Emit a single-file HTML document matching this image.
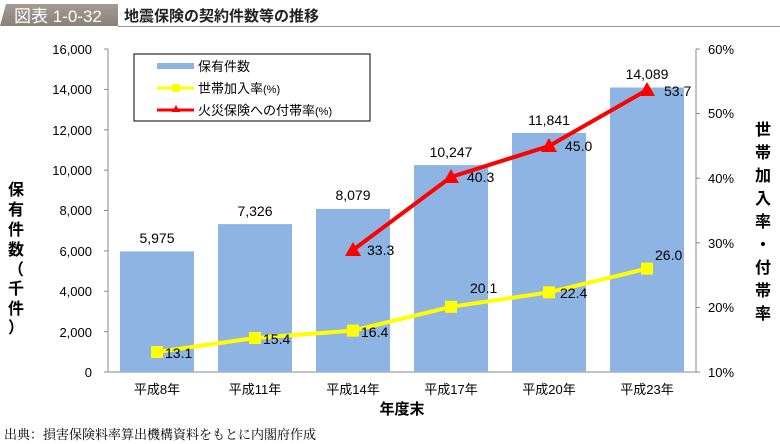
<!DOCTYPE html>
<html><head><meta charset="utf-8"><style>
body{margin:0;background:#fff;}
svg{display:block;font-family:"Liberation Sans","Noto Sans CJK JP",sans-serif;}
</style></head><body>
<svg width="780" height="444" viewBox="0 0 780 444" xmlns="http://www.w3.org/2000/svg">
<defs><linearGradient id="g" x1="0" y1="0" x2="0" y2="1"><stop offset="0" stop-color="#a39b94"/><stop offset="1" stop-color="#8a817a"/></linearGradient></defs>
<polygon points="6,4 118,4 118,26 0,26" fill="url(#g)"/>
<text x="14" y="22" font-size="17" fill="#fff">図表 1-0-32</text>
<text x="124" y="21" font-size="15" fill="#222" font-weight="bold">地震保険の契約件数等の推移</text>
<line x1="118" y1="26.5" x2="780" y2="26.5" stroke="#999" stroke-width="1"/>
<line x1="108" y1="49" x2="108" y2="372" stroke="#888"/>
<line x1="696" y1="49" x2="696" y2="372" stroke="#888"/>
<line x1="108" y1="372" x2="696" y2="372" stroke="#888"/>
<g font-size="13" fill="#000" text-anchor="end">
<text x="92" y="377">0</text><text x="92" y="337">2,000</text><text x="92" y="296">4,000</text><text x="92" y="256">6,000</text><text x="92" y="215">8,000</text><text x="92" y="175">10,000</text><text x="92" y="135">12,000</text><text x="92" y="94">14,000</text><text x="92" y="54">16,000</text>
</g>
<g font-size="13" fill="#000">
<text x="708" y="377">10%</text><text x="708" y="312">20%</text><text x="708" y="248">30%</text><text x="708" y="183">40%</text><text x="708" y="118">50%</text><text x="708" y="54">60%</text>
</g>
<g stroke="#888"><line x1="104" y1="372" x2="108" y2="372"/><line x1="104" y1="331.6" x2="108" y2="331.6"/><line x1="104" y1="291.2" x2="108" y2="291.2"/><line x1="104" y1="250.9" x2="108" y2="250.9"/><line x1="104" y1="210.5" x2="108" y2="210.5"/><line x1="104" y1="170.1" x2="108" y2="170.1"/><line x1="104" y1="129.8" x2="108" y2="129.8"/><line x1="104" y1="89.4" x2="108" y2="89.4"/><line x1="104" y1="49" x2="108" y2="49"/>
<line x1="696" y1="372" x2="700" y2="372"/><line x1="696" y1="307.4" x2="700" y2="307.4"/><line x1="696" y1="242.8" x2="700" y2="242.8"/><line x1="696" y1="178.2" x2="700" y2="178.2"/><line x1="696" y1="113.6" x2="700" y2="113.6"/><line x1="696" y1="49" x2="700" y2="49"/></g>
<g fill="#8eb4e3">
<rect x="120" y="251.4" width="74" height="120.6"/>
<rect x="218" y="224.1" width="74" height="147.9"/>
<rect x="316" y="208.9" width="74" height="163.1"/>
<rect x="414" y="165.1" width="74" height="206.9"/>
<rect x="512" y="132.9" width="74" height="239.1"/>
<rect x="610" y="87.5" width="74" height="284.5"/>
</g>
<g font-size="14" text-anchor="middle">
<text x="157" y="243">5,975</text><text x="255" y="216">7,326</text><text x="353" y="200">8,079</text><text x="451" y="157">10,247</text><text x="549" y="125">11,841</text><text x="647" y="79">14,089</text>
</g>
<polyline points="157,352 255,338 353,330.6 451,306.8 549,292.3 647,268.6" fill="none" stroke="#ffff00" stroke-width="4"/>
<g fill="#ffff00"><rect x="151" y="346" width="12" height="12"/><rect x="249" y="332" width="12" height="12"/><rect x="347" y="324.6" width="12" height="12"/><rect x="445" y="300.8" width="12" height="12"/><rect x="543" y="286.3" width="12" height="12"/><rect x="641" y="262.6" width="12" height="12"/></g>
<polyline points="353,250 451,177 549,146 647,90" fill="none" stroke="#ff0000" stroke-width="4"/>
<g fill="#ff0000"><polygon points="353,242 361,256 345,256"/><polygon points="451,169 459,183 443,183"/><polygon points="549,138 557,152 541,152"/><polygon points="647,82 655,96 639,96"/></g>
<g font-size="14">
<text x="165" y="358">13.1</text><text x="263" y="344">15.4</text><text x="361" y="337">16.4</text><text x="470" y="293">20.1</text><text x="560" y="298">22.4</text><text x="655" y="260">26.0</text>
<text x="367" y="255">33.3</text><text x="467" y="182">40.3</text><text x="565" y="151">45.0</text><text x="664" y="96">53.7</text>
</g>
<rect x="134" y="54" width="236" height="67" fill="#fff" stroke="#000" stroke-width="1"/>
<rect x="157" y="63" width="37" height="6" fill="#8eb4e3"/>
<text x="198" y="71" font-size="13">保有件数</text>
<line x1="157" y1="88" x2="194" y2="88" stroke="#ffff00" stroke-width="3"/><rect x="172" y="84" width="8" height="8" fill="#ffff00"/>
<text x="198" y="93" font-size="13">世帯加入率<tspan font-size="11">(%)</tspan></text>
<line x1="157" y1="110" x2="194" y2="110" stroke="#ff0000" stroke-width="3"/><polygon points="176,105 180,112 172,112" fill="#ff0000"/>
<text x="198" y="115" font-size="13">火災保険への付帯率<tspan font-size="11">(%)</tspan></text>
<g font-size="13" text-anchor="middle">
<text x="157" y="394">平成8年</text><text x="255" y="394">平成11年</text><text x="353" y="394">平成14年</text><text x="451" y="394">平成17年</text><text x="549" y="394">平成20年</text><text x="647" y="394">平成23年</text>
</g>
<text x="402" y="414" font-size="15" font-weight="bold" text-anchor="middle">年度末</text>
<g font-size="16" font-weight="bold" text-anchor="middle">
<text x="16" y="195">保</text><text x="16" y="215">有</text><text x="16" y="235">件</text><text x="16" y="255">数</text><text x="16" y="275">（</text><text x="16" y="294">千</text><text x="16" y="314">件</text><text x="16" y="333">）</text>
<text x="763" y="135">世</text><text x="763" y="158">帯</text><text x="763" y="181">加</text><text x="763" y="204">入</text><text x="763" y="227">率</text><text x="763" y="250">・</text><text x="763" y="273">付</text><text x="763" y="296">帯</text><text x="763" y="319">率</text>
</g>
<text x="4" y="439" font-size="13" font-family="'Noto Serif CJK SC','Liberation Serif',serif">出典：損害保険料率算出機構資料をもとに内閣府作成</text>
</svg>
</body></html>
